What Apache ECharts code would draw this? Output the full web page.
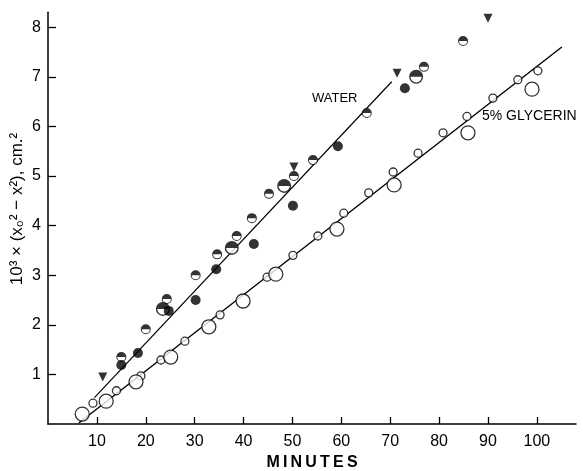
<!DOCTYPE html>
<html>
<head>
<meta charset="utf-8">
<script src="https://cdn.jsdelivr.net/npm/echarts@6/dist/echarts.min.js"></script>
<style>
  html, body { margin: 0; padding: 0; background: #fff; }
  #chart { width: 583px; height: 471px; }
</style>
</head>
<body>
<div id="chart"></div>
<script>
// values: [minutes, 10^3 x (x0^2 - x^2)]
const waterFilled = [[15, 1.19], [18.4, 1.43], [24.7, 2.28], [30.2, 2.5], [34.4, 3.12], [42.1, 3.63], [50.1, 4.4], [59.3, 5.6], [73, 6.77]];
const waterHalf = [[15, 1.35], [20, 1.91], [24.3, 2.52], [30.2, 3.0], [34.6, 3.42], [38.6, 3.79], [41.7, 4.15], [45.2, 4.64], [50.3, 5.0], [54.2, 5.32], [65.2, 6.27], [76.9, 7.2], [84.9, 7.72]];
const waterHalfLarge = [[23.5, 2.32], [37.6, 3.55], [48.3, 4.8], [75.3, 7.0]];
const waterTriangle = [[11.2, 0.95], [50.3, 5.18], [71.4, 7.07], [90, 8.18]];
const glycerinSmall = [[9.2, 0.42], [14, 0.67], [19, 0.97], [23.1, 1.29], [28, 1.67], [35.2, 2.2], [44.8, 2.96], [50.1, 3.4], [55.2, 3.79], [60.5, 4.25], [65.6, 4.66], [70.6, 5.08], [75.7, 5.46], [80.8, 5.87], [85.7, 6.2], [91, 6.57], [96.1, 6.94], [100.2, 7.12]];
const glycerinLarge = [[7, 0.2], [11.9, 0.46], [18, 0.85], [25.1, 1.35], [32.9, 1.96], [39.9, 2.48], [46.6, 3.02], [59.1, 3.93], [70.8, 4.82], [85.9, 5.87], [99, 6.75]];
const waterLine = [[9.5, 0.53], [70.3, 6.9]];
const glycerinLine = [[6.3, 0.02], [105.1, 7.6]];
const xTicks = [10, 20, 30, 40, 50, 60, 70, 80, 90, 100];
const yTicks = [1, 2, 3, 4, 5, 6, 7, 8];

const NARROW = "'Liberation Sans Narrow', 'Liberation Sans', Arial, sans-serif";
const FONT = "'Liberation Sans', Arial, sans-serif";
// top half black, bottom half open ring
const HALF = 'path://M0,5A5,5 0 0 1 10,5A5,5 0 0 1 0,5Z M1,5A4,4 0 0 0 9,5Z';

const chart = echarts.init(document.getElementById('chart'));

const halfSeries = (data, size) => [
  {
    type: 'scatter', data, symbol: 'circle', symbolSize: size - 1,
    itemStyle: { color: '#fff' }, z: 3, silent: true
  },
  {
    type: 'scatter', data, symbol: HALF, symbolSize: size,
    itemStyle: { color: '#000' }, z: 4, silent: true
  }
];

const lineSeries = (data, width) => ({
  type: 'line', data, symbol: 'none', silent: true, z: 2,
  lineStyle: { color: '#000', width }
});

const openSeries = (data, size) => ({
  type: 'scatter', data, symbol: 'circle', symbolSize: size, z: 3, silent: true,
  itemStyle: { color: '#fff', borderColor: '#000', borderWidth: 1.3 }
});

const option = {
  animation: false,
  backgroundColor: '#fff',
  grid: { left: 48, right: 7, top: 12.3, bottom: 47, outerBoundsMode: 'none' },
  xAxis: {
    type: 'value', min: 0, max: 108,
    name: 'M\u2009I\u2009N\u2009U\u2009T\u2009E\u2009S',
    nameLocation: 'middle', nameGap: 29,
    nameTextStyle: { color: '#000', fontFamily: FONT, fontSize: 16, fontWeight: 'bold' },
    axisLine: { lineStyle: { color: '#000', width: 1.5 } },
    axisTick: { inside: true, length: 7, customValues: xTicks, lineStyle: { color: '#000', width: 1.3 } },
    axisLabel: { customValues: xTicks, margin: 10, color: '#000', fontFamily: NARROW, fontSize: 16 },
    splitLine: { show: false }
  },
  yAxis: {
    type: 'value', min: 0, max: 8.3,
    axisLine: { lineStyle: { color: '#000', width: 1.5 } },
    axisTick: { inside: true, length: 8, customValues: yTicks, lineStyle: { color: '#000', width: 1.3 } },
    axisLabel: { customValues: yTicks, margin: 7, color: '#000', fontFamily: NARROW, fontSize: 16 },
    splitLine: { show: false }
  },
  graphic: [
    {
      type: 'text', x: 17, y: 209, rotation: Math.PI / 2,
      style: {
        text: '10\u00b3 \u00d7 (x\u2080\u00b2 \u2212 x\u00b2), cm.\u00b2',
        fill: '#000', font: '17px ' + FONT, align: 'center', verticalAlign: 'middle'
      }
    },
    {
      type: 'text', x: 312, y: 98,
      style: { text: 'WATER', fill: '#000', font: '13px ' + FONT, verticalAlign: 'middle' }
    },
    {
      type: 'text', x: 482, y: 116,
      style: { text: '5% GLYCERIN', fill: '#000', font: '14px ' + FONT, verticalAlign: 'middle' }
    }
  ],
  series: [
    lineSeries(waterLine, 1.2),
    lineSeries(glycerinLine, 1.4),
    openSeries(glycerinSmall, 8),
    openSeries(glycerinLarge, 14),
    {
      type: 'scatter', data: waterFilled, symbol: 'circle', symbolSize: 10,
      itemStyle: { color: '#000' }, z: 4, silent: true
    },
    ...halfSeries(waterHalf, 10),
    ...halfSeries(waterHalfLarge, 14),
    {
      type: 'scatter', data: waterTriangle, symbol: 'triangle', symbolRotate: 180, symbolSize: 9,
      itemStyle: { color: '#000' }, z: 4, silent: true
    }
  ]
};

chart.setOption(option);
</script>
</body>
</html>
